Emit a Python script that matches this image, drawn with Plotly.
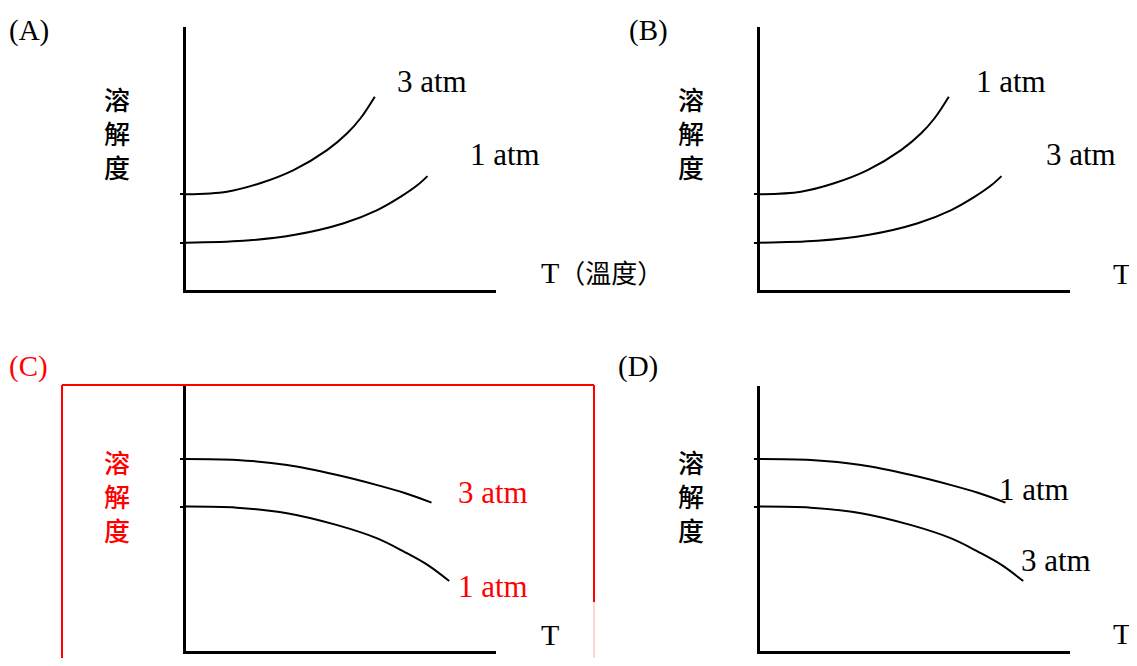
import plotly.graph_objects as go

W, H = 1137, 666
OFF = 8  # default page margin around the plot div
FW, FH = W - OFF, H - 2 * OFF  # keep the page from scrolling vertically

# --- data (solubility vs temperature, arbitrary units 0-10) ---
rise_hi_x = [0, 1.32, 2.39, 3.47, 4.55, 5.20, 5.63, 6.09]
rise_hi_y = [3.64, 3.74, 4.06, 4.56, 5.32, 5.96, 6.53, 7.35]
rise_lo_x = [0, 1.85, 3.47, 5.09, 6.17, 6.93, 7.47, 7.79]
rise_lo_y = [1.80, 1.87, 2.09, 2.54, 3.04, 3.55, 3.99, 4.33]

fall_hi_x = [0, 1.64, 3.26, 4.88, 6.17, 7.03, 7.92]
fall_hi_y = [7.25, 7.21, 7.02, 6.64, 6.26, 5.97, 5.60]
fall_lo_x = [0, 1.64, 3.26, 4.88, 6.17, 7.03, 7.79, 8.49]
fall_lo_y = [5.45, 5.41, 5.20, 4.75, 4.25, 3.75, 3.25, 2.64]

panel_names = ["(A)", "(B)", "(C)", "(D)"]
upper_labels = ["3 atm", "1 atm", "3 atm", "1 atm"]
lower_labels = ["1 atm", "3 atm", "1 atm", "3 atm"]
x_titles = ["T<span style='font-family:Noto Sans CJK TC;font-size:26px'>（溫度）</span>", "T", "T", "T"]
y_title = "溶<br>解<br>度"

# --- layout constants (pixels in the 1137x666 page) ---
SERIF = "Liberation Serif, Times New Roman, serif"
CJK = "Noto Sans CJK TC, Noto Sans CJK SC, sans-serif"
RED = "#ff0000"

col_px = [(186, 496), (760, 1070), (186, 496), (760, 1070)]
row_px = [(27, 290), (27, 290), (386, 651), (386, 651)]
curves = [
    (rise_hi_x, rise_hi_y, rise_lo_x, rise_lo_y),
    (rise_hi_x, rise_hi_y, rise_lo_x, rise_lo_y),
    (fall_hi_x, fall_hi_y, fall_lo_x, fall_lo_y),
    (fall_hi_x, fall_hi_y, fall_lo_x, fall_lo_y),
]
upper_pos = [(6.75, 7.91), (6.9, 7.91), (8.7, 6.0), (7.64, 6.08)]
lower_pos = [(9.1, 5.17), (9.15, 5.17), (8.72, 2.42), (8.35, 3.40)]
name_pos = [(7, 30), (627, 30), (7, 366), (616, 366)]
xtitle_pos = [(539, 272), (1111, 273), (539, 634), (1111, 633)]
ytitle_pos = [(117, 133), (691, 133), (117, 495), (691, 495)]
text_colors = ["black", "black", RED, "black"]


def px(x):
    return (x - OFF) / FW


def py(y):
    return 1 - (y - OFF) / FH


fig = go.Figure()
annotations = []

for i in range(4):
    sfx = "" if i == 0 else str(i + 1)
    hx, hy, lx, ly = curves[i]
    for cx, cy in [(hx, hy), (lx, ly)]:
        fig.add_trace(go.Scatter(
            x=cx, y=cy, mode="lines",
            line=dict(color="black", width=2, shape="spline", smoothing=1),
            xaxis="x" + sfx, yaxis="y" + sfx, showlegend=False, hoverinfo="skip"))

    x0, x1 = col_px[i]
    ytop, ybot = row_px[i]
    fig.update_layout({
        "xaxis" + sfx: dict(domain=[px(x0), px(x1)], range=[0, 10], anchor="y" + sfx,
                            showline=True, linecolor="black", linewidth=2.5,
                            showgrid=False, zeroline=False, showticklabels=False,
                            ticks="", fixedrange=True),
        "yaxis" + sfx: dict(domain=[py(ybot), py(ytop)], range=[0, 10], anchor="x" + sfx,
                            showline=True, linecolor="black", linewidth=2.5,
                            showgrid=False, zeroline=False, showticklabels=False,
                            ticks="outside", ticklen=3, tickwidth=2, tickcolor="black",
                            tickvals=[ly[0], hy[0]], fixedrange=True),
    })

    col = text_colors[i]
    for lab, (ax, ay) in [(upper_labels[i], upper_pos[i]), (lower_labels[i], lower_pos[i])]:
        annotations.append(dict(x=ax, y=ay, xref="x" + sfx, yref="y" + sfx, text=lab,
                                showarrow=False, xanchor="left", yanchor="middle",
                                font=dict(family=SERIF, size=31, color=col)))

    nx, ny = name_pos[i]
    annotations.append(dict(x=px(nx), y=py(ny), xref="paper", yref="paper", text=panel_names[i],
                            showarrow=False, xanchor="left", yanchor="middle",
                            font=dict(family=SERIF, size=29, color=col)))

    tx, ty = xtitle_pos[i]
    annotations.append(dict(x=px(tx), y=py(ty), xref="paper", yref="paper", text=x_titles[i],
                            showarrow=False, xanchor="left", yanchor="middle",
                            font=dict(family=SERIF, size=30, color="black")))

    cx0, cy0 = ytitle_pos[i]
    annotations.append(dict(x=px(cx0), y=py(cy0), xref="paper", yref="paper",
                            text=y_title, showarrow=False, xanchor="center", yanchor="middle",
                            font=dict(family=CJK, size=26, color=col, weight=500)))

# red highlight box around (C)
box_l, box_t, box_r, box_cut = 62, 385, 594, 602
shapes = [
    dict(type="line", xref="paper", yref="paper", x0=px(box_l), x1=px(box_l), y0=py(box_t), y1=0,
         line=dict(color=RED, width=2)),
    dict(type="line", xref="paper", yref="paper", x0=px(box_l), x1=px(box_r), y0=py(box_t), y1=py(box_t),
         line=dict(color=RED, width=2)),
    dict(type="line", xref="paper", yref="paper", x0=px(box_r), x1=px(box_r), y0=py(box_t), y1=py(box_cut),
         line=dict(color=RED, width=2)),
    dict(type="line", xref="paper", yref="paper", x0=px(box_r), x1=px(box_r), y0=py(box_cut), y1=0,
         line=dict(color="#f6b0b0", width=1)),
]

fig.update_layout(
    width=FW, height=FH,
    margin=dict(l=0, r=0, t=0, b=0),
    paper_bgcolor="white", plot_bgcolor="white",
    annotations=annotations, shapes=shapes,
    showlegend=False,
)

fig.write_html("out.html")
